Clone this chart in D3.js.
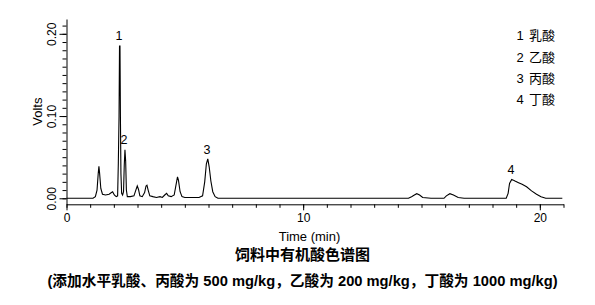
<!DOCTYPE html>
<html lang="zh">
<head>
<meta charset="UTF-8" />
<title>饲料中有机酸色谱图</title>
<style>
  body { margin: 0; background: #fff; }
  svg text { font-family: "Liberation Sans", Arial, "Noto Sans CJK SC", sans-serif; fill: #000; }
  .trace { fill: none; stroke: #000; stroke-width: 1.1; }
  .axis path, .axis line { stroke: #000; }
</style>
</head>
<body>
<script src="https://d3js.org/d3.v7.min.js"></script>
<script>
// chromatogram trace: [time (min), volts]
const trace = [
  [0.00, 0.000], [1.12, 0.000], [1.22, 0.002], [1.29, 0.010], [1.34, 0.030],
  [1.37, 0.039], [1.40, 0.030], [1.45, 0.012], [1.52, 0.005], [1.65, 0.004],
  [1.80, 0.005], [1.90, 0.007], [1.95, 0.008], [2.02, 0.004], [2.10, 0.002],
  [2.16, 0.003], [2.19, 0.043], [2.22, 0.100], [2.24, 0.185], [2.26, 0.185],
  [2.28, 0.094], [2.30, 0.030], [2.33, 0.006], [2.37, 0.004], [2.41, 0.008],
  [2.44, 0.040], [2.47, 0.059], [2.50, 0.045], [2.53, 0.010], [2.57, 0.002],
  [2.70, 0.002], [2.85, 0.003], [2.93, 0.010], [2.99, 0.015], [3.04, 0.011],
  [3.10, 0.003], [3.20, 0.002], [3.30, 0.007], [3.36, 0.015], [3.40, 0.016],
  [3.45, 0.010], [3.52, 0.003], [3.65, 0.002], [3.80, 0.001], [3.95, 0.002],
  [4.05, 0.001], [4.15, 0.004], [4.23, 0.006], [4.30, 0.003], [4.42, 0.002],
  [4.55, 0.004], [4.62, 0.015], [4.69, 0.026], [4.73, 0.022], [4.80, 0.008],
  [4.88, 0.002], [5.00, 0.001], [5.60, 0.001], [5.75, 0.003], [5.84, 0.020],
  [5.91, 0.042], [5.97, 0.048], [6.03, 0.038], [6.10, 0.021], [6.18, 0.008],
  [6.28, 0.002], [6.40, 0.000], [14.45, 0.000], [14.58, 0.002], [14.70, 0.004],
  [14.80, 0.0056], [14.92, 0.004], [15.05, 0.001], [15.40, 0.000], [15.95, 0.000],
  [16.05, 0.003], [16.20, 0.0056], [16.35, 0.004], [16.55, 0.001], [16.80, 0.000],
  [18.58, 0.000], [18.66, 0.006], [18.72, 0.018], [18.81, 0.023], [18.95, 0.021],
  [19.10, 0.019], [19.25, 0.017], [19.44, 0.014], [19.65, 0.009], [19.86, 0.005],
  [20.05, 0.002], [20.25, 0.000], [20.95, 0.000]
];

// peak labels: [text, time, volts]
const peakLabels = [
  ["1", 2.22, 0.1976],
  ["2", 2.43, 0.071],
  ["3", 5.94, 0.0588],
  ["4", 18.78, 0.0344]
];

const legendItems = ["1", "2", "3", "4"];
const legendNames = ["乳酸", "乙酸", "丙酸", "丁酸"];

const xMajorTicks = [0, 10, 20];
const xMinorTicks = d3.range(0, 22, 1);
const yMajorTicks = [0, 0.1, 0.2];
const yMinorTicks = d3.range(0, 22).map((i) => i / 100);

const xTitle = "Time (min)";
const yTitle = "Volts";
const chartTitle = "饲料中有机酸色谱图";
const subTitle = "(添加水平乳酸、丙酸为 500 mg/kg，乙酸为 200 mg/kg，丁酸为 1000 mg/kg)";

const width = 595, height = 305;
const margin = { top: 19, right: 31.5, bottom: 100.7, left: 66.5 };

const svg = d3.select("body").append("svg")
  .attr("width", width)
  .attr("height", height);

const x = d3.scaleLinear()
  .domain([0, 21])
  .range([margin.left, width - margin.right]);

const y = d3.scaleLinear()
  .domain([-0.0073, 0.218])
  .range([height - margin.bottom, margin.top]);

const axisY0 = height - margin.bottom;

// x axis: minor + major ticks
svg.append("g")
  .attr("class", "axis")
  .attr("transform", `translate(0,${axisY0})`)
  .call(d3.axisBottom(x).tickValues(xMinorTicks).tickSize(3.5).tickFormat(""))
  .call((g) => g.select(".domain").remove());

svg.append("g")
  .attr("class", "axis")
  .attr("transform", `translate(0,${axisY0})`)
  .call(d3.axisBottom(x).tickValues(xMajorTicks).tickSize(6).tickSizeOuter(0).tickFormat(d3.format("d")))
  .call((g) => g.selectAll("text").attr("font-size", 12).attr("y", 9));

// y axis
svg.append("g")
  .attr("class", "axis")
  .attr("transform", `translate(${margin.left},0)`)
  .call(d3.axisLeft(y).tickValues(yMinorTicks).tickSize(4).tickFormat(""))
  .call((g) => g.select(".domain").remove());

svg.append("g")
  .attr("class", "axis")
  .attr("transform", `translate(${margin.left},0)`)
  .call(d3.axisLeft(y).tickValues(yMajorTicks).tickSize(7).tickSizeOuter(0).tickFormat(d3.format(".2f")))
  .call((g) => g.selectAll("text")
    .attr("font-size", 12)
    .attr("x", 0).attr("y", 0)
    .attr("dy", "0.35em")
    .attr("text-anchor", "middle")
    .attr("transform", "translate(-15,0) rotate(-90)"));

// trace
const line = d3.line()
  .x((d) => x(d[0]))
  .y((d) => y(d[1]));

svg.append("path")
  .datum(trace)
  .attr("class", "trace")
  .attr("d", line);

// peak labels
svg.append("g")
  .selectAll("text")
  .data(peakLabels)
  .join("text")
  .attr("x", (d) => x(d[1]))
  .attr("y", (d) => y(d[2]))
  .attr("dy", "0.35em")
  .attr("text-anchor", "middle")
  .attr("font-size", 12.5)
  .text((d) => d[0]);

// legend
const legend = svg.append("g")
  .selectAll("g")
  .data(legendItems)
  .join("g")
  .attr("transform", (d, i) => `translate(0,${35.7 + i * 21.4})`);

legend.append("text")
  .attr("x", 520)
  .attr("dy", "0.35em")
  .attr("text-anchor", "middle")
  .attr("font-size", 13)
  .text((d) => d);

legend.append("text")
  .attr("x", 529)
  .attr("dy", "0.35em")
  .attr("font-size", 13)
  .text((d, i) => legendNames[i]);

// axis titles
svg.append("text")
  .attr("x", 309.5)
  .attr("y", 236)
  .attr("dy", "0.35em")
  .attr("text-anchor", "middle")
  .attr("font-size", 13)
  .text(xTitle);

svg.append("text")
  .attr("transform", `translate(37,${(margin.top + axisY0) / 2}) rotate(-90)`)
  .attr("dy", "0.35em")
  .attr("text-anchor", "middle")
  .attr("font-size", 13)
  .text(yTitle);

// titles
svg.append("text")
  .attr("x", 302.5)
  .attr("y", 254.5)
  .attr("dy", "0.35em")
  .attr("text-anchor", "middle")
  .attr("font-size", 15)
  .attr("font-weight", "bold")
  .text(chartTitle);

svg.append("text")
  .attr("x", 302.5)
  .attr("y", 281)
  .attr("dy", "0.35em")
  .attr("text-anchor", "middle")
  .attr("font-size", 14.7)
  .attr("font-weight", "bold")
  .text(subTitle);
</script>
</body>
</html>
